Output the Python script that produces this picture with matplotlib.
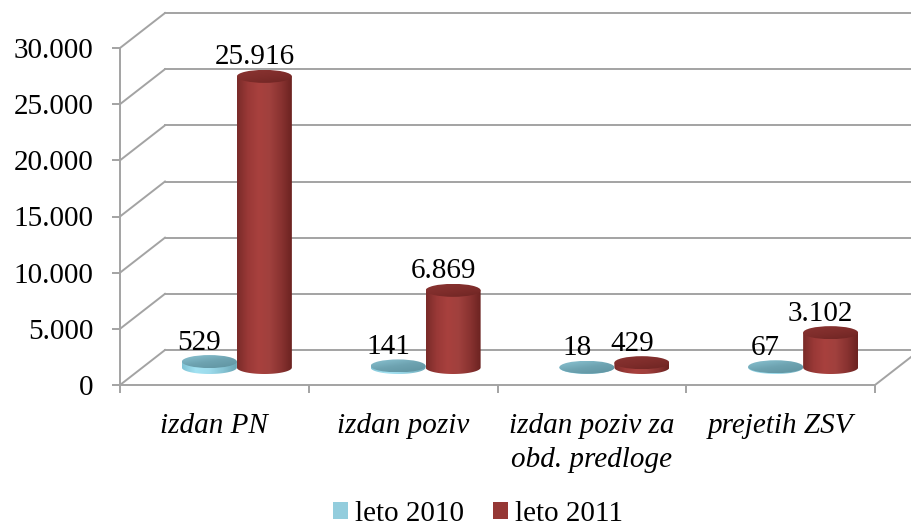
import numpy as np
import matplotlib
matplotlib.use("Agg")
import matplotlib.pyplot as plt
from matplotlib.patches import Ellipse, PathPatch, Patch
from matplotlib.path import Path
from matplotlib.colors import LinearSegmentedColormap

# ---------------- data ----------------
categories = ["izdan PN", "izdan poziv", "izdan poziv za\nobd. predloge", "prejetih ZSV"]
series_names = ["leto 2010", "leto 2011"]
values_2010 = [529, 141, 18, 67]
values_2011 = [25916, 6869, 429, 3102]
y_ticks = [0, 5000, 10000, 15000, 20000, 25000, 30000]

# ---------------- style ----------------
SERIF = ["Liberation Serif", "DejaVu Serif"]
GRID = "#a3a3a3"
FS = 21
W, H = 911, 532

fig = plt.figure(figsize=(W / 100, H / 100), dpi=100)
# front plane: x 120..875 px, y 385..48 px
ax = fig.add_axes([120 / W, (H - 385) / H, 755 / W, 337 / H])
YMAX = y_ticks[-1]
ax.set_xlim(0, len(categories))
ax.set_ylim(0, YMAX)

px_x = len(categories) / 755.0     # data units per pixel (x)
px_y = YMAX / 337.0                # data units per pixel (y)
DX = 45 * px_x                     # depth offset
DY = 35 * px_y

# walls / gridlines
for v in y_ticks:
    ax.plot([0, DX], [v, v + DY], color=GRID, lw=1.4, clip_on=False, zorder=1)
    ax.plot([DX, len(categories) + DX], [v + DY, v + DY], color=GRID, lw=1.4,
            clip_on=False, zorder=1)
ax.plot([len(categories), len(categories) + DX], [0, DY], color=GRID, lw=1.4,
        clip_on=False, zorder=1)

# axes spines / ticks
for s in ["top", "right"]:
    ax.spines[s].set_visible(False)
for s in ["left", "bottom"]:
    ax.spines[s].set_color(GRID)
    ax.spines[s].set_linewidth(1.4)
ax.set_yticks(y_ticks)
ax.set_yticklabels([f"{v:,}".replace(",", ".") for v in y_ticks],
                   fontfamily=SERIF, fontsize=FS)
ax.set_xticks(np.arange(len(categories) + 1))
ax.set_xticklabels([])
ax.tick_params(axis="both", colors=GRID, length=6, width=1.4, labelcolor="black")
ax.tick_params(axis="y", pad=13)
ax.patch.set_visible(False)

for i, c in enumerate(categories):
    ax.annotate(c, (i + 0.5, 0), xytext=(0, -28), textcoords="offset pixels",
                ha="center", va="top", fontfamily=SERIF, fontsize=FS,
                style="italic", linespacing=1.4, annotation_clip=False)

# cylinders
red_side = LinearSegmentedColormap.from_list(
    "rs", ["#7a2b29", "#9a3937", "#a8413e", "#a0403d", "#8a3331", "#6c2321"])
blue_side = LinearSegmentedColormap.from_list(
    "bs", ["#7fc3d5", "#a2e2f2", "#9ddbec", "#86c4d4", "#6aa5b4"])
red_top = LinearSegmentedColormap.from_list("rt", ["#6e2523", "#7f2d2b", "#8a3432"])
blue_top = LinearSegmentedColormap.from_list("bt", ["#5f93a0", "#6ea3b1", "#8ac3d2"])

BAR_W = 55 * px_x
RY = 6.5 * px_y
BASE = DY / 2


def cylinder(xc, v, side_cmap, top_cmap, z):
    x0, x1 = xc - BAR_W / 2, xc + BAR_W / 2
    y1 = BASE + v
    t = np.linspace(np.pi, 2 * np.pi, 80)
    bottom = np.column_stack([xc + BAR_W / 2 * np.cos(t), BASE + RY * np.sin(t)])
    verts = np.vstack([[x0, y1], bottom, [x1, y1], [x0, y1]])
    body = PathPatch(Path(verts, closed=True), facecolor="none", edgecolor="none", zorder=z)
    ax.add_patch(body)
    grad = np.linspace(0, 1, 200).reshape(1, -1)
    im = ax.imshow(grad, cmap=side_cmap, aspect="auto", origin="lower",
                   extent=[x0, x1, BASE - RY, y1], zorder=z, interpolation="bilinear")
    im.set_clip_path(body)
    top = Ellipse((xc, y1), BAR_W, 2 * RY, facecolor="none", edgecolor="none", zorder=z + 0.1)
    ax.add_patch(top)
    g2 = np.linspace(1, 0, 50).reshape(-1, 1) * 0.6 + np.linspace(0.4, 0, 50).reshape(1, -1)
    im2 = ax.imshow(g2, cmap=top_cmap, aspect="auto", origin="upper",
                    extent=[x0, x1, y1 - RY, y1 + RY], zorder=z + 0.1,
                    interpolation="bilinear", vmin=0, vmax=1)
    im2.set_clip_path(top)
    return y1


for i in range(len(categories)):
    pc = i + 0.5 + DX / 2
    for k, (vals, sc, tc) in enumerate([(values_2010, blue_side, blue_top),
                                         (values_2011, red_side, red_top)]):
        xc = pc + (k - 0.5) * BAR_W
        ytop = cylinder(xc, vals[i], sc, tc, 3 + k)
        ax.annotate(f"{vals[i]:,}".replace(",", "."), (xc, ytop), xytext=(-10, 19),
                    textcoords="offset pixels", ha="center", va="center",
                    fontfamily=SERIF, fontsize=FS, zorder=6, annotation_clip=False)

ax.set_xlim(0, len(categories))
ax.set_ylim(0, YMAX)

handles = [Patch(facecolor="#93cddd", edgecolor="none"),
           Patch(facecolor="#953735", edgecolor="none")]
fig.legend(handles, series_names, loc="lower center", bbox_to_anchor=(0.525, -0.04),
           ncol=2, frameon=False, prop={"family": SERIF, "size": FS},
           handlelength=0.5, handleheight=0.5, handletextpad=0.25, columnspacing=1.0)

fig.savefig("out.png", dpi=100)
